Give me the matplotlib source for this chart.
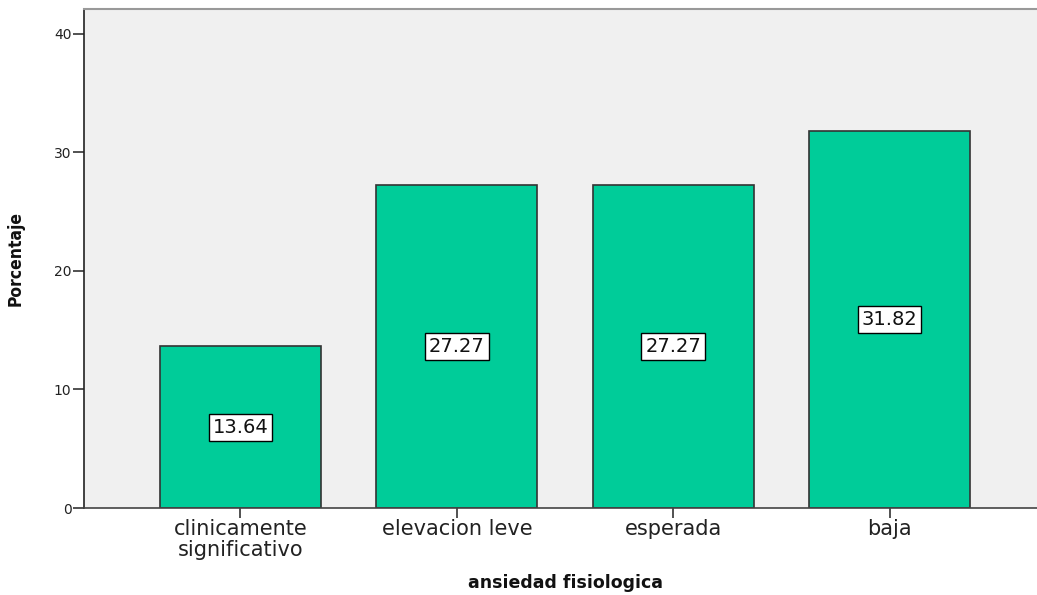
import matplotlib
matplotlib.use('Agg')
import matplotlib.pyplot as plt

categories = ['clinicamente\nsignificativo', 'elevacion leve', 'esperada', 'baja']
percentages = [13.64, 27.27, 27.27, 31.82]
y_ticks = [0, 10, 20, 30, 40]

plt.rcParams['font.family'] = ['DejaVu Sans']

dpi = 100
fig = plt.figure(figsize=(1037 / dpi, 595 / dpi), dpi=dpi)
ax = fig.add_axes([84 / 1037, 1 - 508 / 595, (1046 - 84) / 1037, (508 - 9) / 595])
ax.set_facecolor('#f0f0f0')

x = range(len(categories))
ax.bar(x, percentages, width=0.745, color='#00cc99', edgecolor='#333333', linewidth=1.2, zorder=2)

for xi, v in zip(x, percentages):
    ax.text(xi, v / 2, f'{v:.2f}', ha='center', va='center', fontsize=14, color='#111111',
            bbox=dict(boxstyle='square,pad=0.2', facecolor='white', edgecolor='black', linewidth=1),
            zorder=3)

ax.set_xlim(-0.723, 3.723)
ax.set_ylim(0, 42.1)
ax.set_yticks(y_ticks)
ax.set_xticks(list(x))
ax.set_xticklabels(categories, fontsize=15, color='#222222', linespacing=1.05)
ax.tick_params(axis='y', labelsize=10, length=8, width=1.2, color='#333333', labelcolor='#222222', pad=1)
ax.tick_params(axis='x', length=7, width=1.2, color='#333333', pad=1)

ax.spines['right'].set_visible(False)
ax.spines['top'].set_color('#999999')
ax.spines['top'].set_linewidth(1.5)
ax.spines['left'].set_color('#222222')
ax.spines['left'].set_linewidth(1.2)
ax.spines['bottom'].set_color('#444444')
ax.spines['bottom'].set_linewidth(1.2)

ax.set_ylabel('Porcentaje', fontsize=12.5, fontweight='bold', fontstretch='condensed', color='#111111')
ax.yaxis.set_label_coords(-59 / 962, 0.5)
ax.set_xlabel('ansiedad fisiologica', fontsize=12.5, fontweight='bold', color='#111111')
ax.xaxis.set_label_coords((565 - 84) / 962, -(574 - 508) / 499)

fig.savefig('out.png', dpi=dpi)
